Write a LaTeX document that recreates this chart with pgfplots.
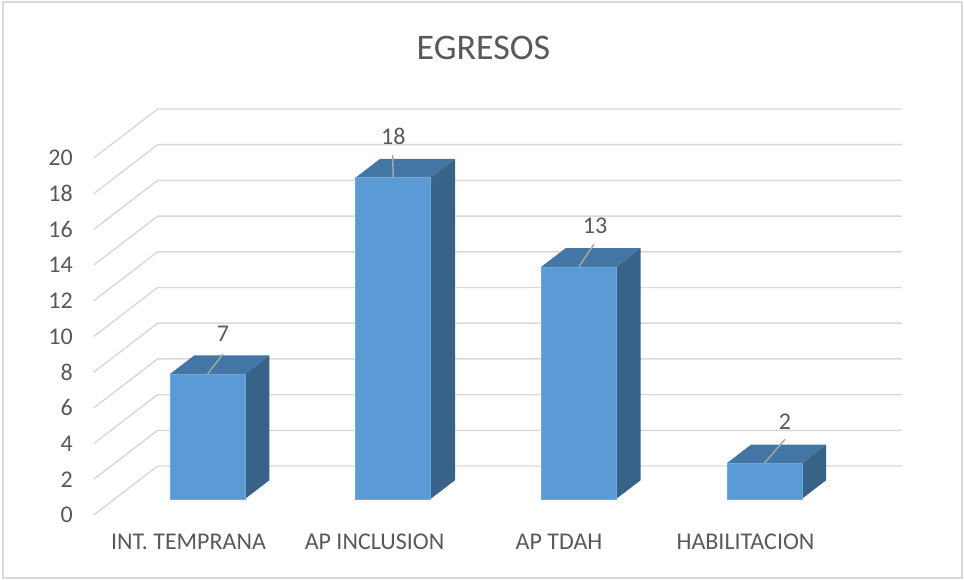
\documentclass[border=0pt]{standalone}
\usepackage{fontspec}
\setmainfont{Carlito}
\usepackage{pgfplots}
\pgfplotsset{compat=1.18}
\definecolor{frontc}{HTML}{5B9BD5}
\definecolor{edgec}{HTML}{6FA8DC}
\definecolor{topc}{HTML}{4375A5}
\definecolor{sidec}{HTML}{386389}
\definecolor{gridc}{HTML}{D9D9D9}
\definecolor{txtc}{HTML}{595959}
\definecolor{leadc}{HTML}{A6A6A6}
\begin{document}
\begin{tikzpicture}
\begin{axis}[
  x={(139.2pt,0pt)}, y={(48pt,36.75pt)}, z={(0pt,13.3875pt)},
  hide axis, clip=false,
  xmin=-0.5, xmax=3.5, ymin=0, ymax=1, zmin=0, zmax=20,
  every axis plot/.append style={line join=round},
]
% picture extent and frame
\path (axis cs:-1.004849,0,28.85154) rectangle (axis cs:4.18912,0,-3.64146);
\draw[gridc, line width=1.1pt] (axis cs:-0.98869,0,28.7395) rectangle (axis cs:4.17834,0,-3.52941);
% title
\node[anchor=base, text=txtc, inner sep=0pt, font=\fontsize{27}{32}\selectfont] at (axis cs:1.59968,0,25.4902) {EGRESOS};
% gridlines and value labels
\pgfplotsinvokeforeach{0,2,...,20}{
  \addplot3[gridc, line width=1.1pt, mark=none] coordinates {(-0.5,0,#1) (-0.5,1,#1) (3.51,1,#1)};
  \node[anchor=east, text=txtc, inner sep=0pt, xshift=-15.5pt, font=\fontsize{18}{21.6}\selectfont] at (axis cs:-0.5,0,#1) {#1};
}
% bar 1: INT. TEMPRANA = 7
\addplot3[fill=sidec, draw=none] coordinates {(0.202,0.33,0) (0.202,0.33,7) (0.202,0.71,7) (0.202,0.71,0)} -- cycle;
\addplot3[fill=topc, draw=none] coordinates {(-0.202,0.33,7) (0.202,0.33,7) (0.202,0.71,7) (-0.202,0.71,7)} -- cycle;
\addplot3[fill=frontc, draw=edgec, line width=0.4pt] coordinates {(-0.202,0.33,0) (0.202,0.33,0) (0.202,0.33,7) (-0.202,0.33,7)} -- cycle;
% bar 2: AP INCLUSION = 18
\addplot3[fill=sidec, draw=none] coordinates {(1.202,0.33,0) (1.202,0.33,18) (1.202,0.71,18) (1.202,0.71,0)} -- cycle;
\addplot3[fill=topc, draw=none] coordinates {(0.798,0.33,18) (1.202,0.33,18) (1.202,0.71,18) (0.798,0.71,18)} -- cycle;
\addplot3[fill=frontc, draw=edgec, line width=0.4pt] coordinates {(0.798,0.33,0) (1.202,0.33,0) (1.202,0.33,18) (0.798,0.33,18)} -- cycle;
% bar 3: AP TDAH = 13
\addplot3[fill=sidec, draw=none] coordinates {(2.202,0.33,0) (2.202,0.33,13) (2.202,0.71,13) (2.202,0.71,0)} -- cycle;
\addplot3[fill=topc, draw=none] coordinates {(1.798,0.33,13) (2.202,0.33,13) (2.202,0.71,13) (1.798,0.71,13)} -- cycle;
\addplot3[fill=frontc, draw=edgec, line width=0.4pt] coordinates {(1.798,0.33,0) (2.202,0.33,0) (2.202,0.33,13) (1.798,0.33,13)} -- cycle;
% bar 4: HABILITACION = 2
\addplot3[fill=sidec, draw=none] coordinates {(3.202,0.33,0) (3.202,0.33,2) (3.202,0.71,2) (3.202,0.71,0)} -- cycle;
\addplot3[fill=topc, draw=none] coordinates {(2.798,0.33,2) (3.202,0.33,2) (3.202,0.71,2) (2.798,0.71,2)} -- cycle;
\addplot3[fill=frontc, draw=edgec, line width=0.4pt] coordinates {(2.798,0.33,0) (3.202,0.33,0) (3.202,0.33,2) (2.798,0.33,2)} -- cycle;
% leader lines
\draw[leadc, line width=1.1pt] (axis cs:0,0.33,7) -- (axis cs:0.19666,0,9.0196);
\draw[leadc, line width=1.1pt] (axis cs:1,0.33,18) -- (axis cs:1.11099,0,20.1681);
\draw[leadc, line width=1.1pt] (axis cs:2,0.33,13) -- (axis cs:2.19558,0,15.1653);
\draw[leadc, line width=1.1pt] (axis cs:3,0.33,2) -- (axis cs:3.22468,0,4.2409);
% data labels
\node[anchor=base, text=txtc, inner sep=0pt, font=\fontsize{18}{21.6}\selectfont] at (axis cs:0.19666,0,9.6919) {7};
\node[anchor=base, text=txtc, inner sep=0pt, font=\fontsize{18}{21.6}\selectfont] at (axis cs:1.11422,0,20.7283) {18};
\node[anchor=base, text=txtc, inner sep=0pt, font=\fontsize{18}{21.6}\selectfont] at (axis cs:2.20097,0,15.7815) {13};
\node[anchor=base, text=txtc, inner sep=0pt, font=\fontsize{18}{21.6}\selectfont] at (axis cs:3.22468,0,4.7619) {2};
% category labels
\node[anchor=base, text=txtc, inner sep=0pt, font=\fontsize{18}{21.6}\selectfont] at (axis cs:0.01078,0,-1.9608) {INT. TEMPRANA};
\node[anchor=base, text=txtc, inner sep=0pt, font=\fontsize{18}{21.6}\selectfont] at (axis cs:1.01293,0,-1.9608) {AP INCLUSION};
\node[anchor=base, text=txtc, inner sep=0pt, font=\fontsize{18}{21.6}\selectfont] at (axis cs:2.00700,0,-1.9608) {AP TDAH};
\node[anchor=base, text=txtc, inner sep=0pt, font=\fontsize{18}{21.6}\selectfont] at (axis cs:3.01185,0,-1.9608) {HABILITACION};
\end{axis}
\end{tikzpicture}
\end{document}
